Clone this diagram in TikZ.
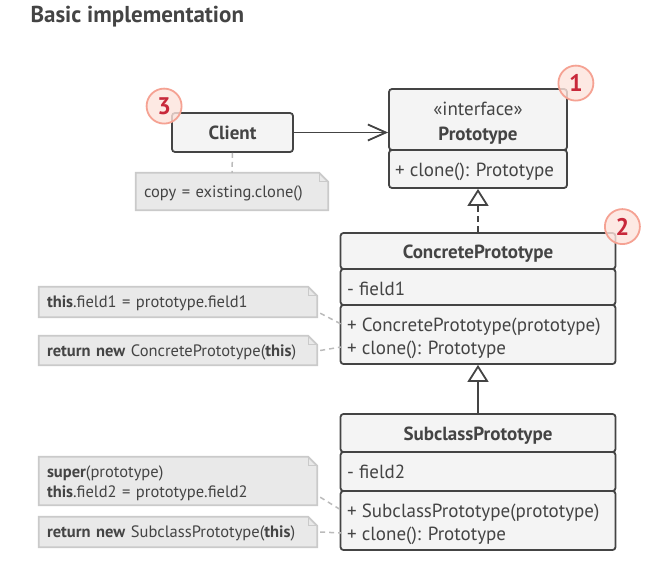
\documentclass[tikz,border=0pt]{standalone}
\usepackage{fontspec}
\setmainfont{PT Sans}
\usetikzlibrary{arrows.meta}
\definecolor{ink}{HTML}{444444}
\definecolor{boxfill}{HTML}{F4F4F4}
\definecolor{notefill}{HTML}{E9E9E9}
\definecolor{noteline}{HTML}{CACACA}
\definecolor{linkline}{HTML}{BBBBBB}
\definecolor{badgefill}{HTML}{FDE3DC}
\definecolor{badgeline}{HTML}{F5A293}
\definecolor{badgetext}{HTML}{C8283A}
\begin{document}
\begin{tikzpicture}[x=1pt,y=-1pt,
  every node/.style={text=ink},
  part/.style={draw=ink, fill=boxfill, line width=1.8pt, rounded corners=3pt, inner sep=0pt,
    text height=16pt, text depth=2pt, font=\fontsize{19}{22}\selectfont\bfseries},
  member/.style={anchor=west, inner xsep=6pt, inner ysep=0pt, text height=16.5pt, text depth=2pt,
    font=\fontsize{19}{22}\selectfont},
  note/.style={fill=notefill, inner xsep=8pt, inner ysep=0pt, align=left, text height=14.5pt, text depth=3.5pt,
    font=\fontsize{16.5}{20}\selectfont},
  notefold/.style={draw=noteline, line width=1.8pt},
  link/.style={draw=linkline, line width=1.5pt, dash pattern=on 5pt off 4pt},
  badge/.style={circle, minimum size=35pt, inner sep=0pt, draw=badgeline, line width=1.8pt,
    fill=badgefill, fill opacity=0.8, text opacity=1, text=badgetext, font=\fontsize{24}{24}\selectfont\bfseries}]

            \useasboundingbox (0,0) rectangle (649,570);

            \node[anchor=base west, font=\fontsize{23}{26}\selectfont\bfseries] (title) at (27,22) {Basic implementation};

            % client
            \node[part, minimum width=121pt, minimum height=39pt] (client) at (232.5,132.5) {Client};

            % prototype interface
            \node[part, minimum width=178pt, minimum height=61pt] (protohead) at (478,119.5) {};
            \node[part, minimum width=178pt, minimum height=38pt] (protometh) at (478,169) {};
            \node[member, anchor=center, font=\fontsize{19}{22}\selectfont] (protostereo) at (478,108) {«interface»};
            \node[member, anchor=center, font=\fontsize{19}{22}\selectfont\bfseries] (protoname) at (478,133) {Prototype};
            \node[member] (pm1) at (389,169) {+ clone(): Prototype};

            % concrete prototype
            \node[part, minimum width=275pt, minimum height=36pt] (cphead) at (478,251) {ConcretePrototype};
            \node[part, minimum width=275pt, minimum height=36pt] (cpfield) at (478,287) {};
            \node[part, minimum width=275pt, minimum height=59pt] (cpmeth) at (478,334.5) {};
            \node[member] (cpf1) at (341,288) {- field1};
            \node[member] (cpm1) at (341,324) {+ ConcretePrototype(prototype)};
            \node[member] (cpm2) at (341,347) {+ clone(): Prototype};

            % subclass prototype
            \node[part, minimum width=275pt, minimum height=38pt] (sphead) at (478,433) {SubclassPrototype};
            \node[part, minimum width=275pt, minimum height=39pt] (spfield) at (478,471.5) {};
            \node[part, minimum width=275pt, minimum height=59pt] (spmeth) at (478,520.5) {};
            \node[member] (spf1) at (341,471) {- field2};
            \node[member] (spm1) at (341,510) {+ SubclassPrototype(prototype)};
            \node[member] (spm2) at (341,533) {+ clone(): Prototype};

            % notes
            \node[note, minimum height=37pt, text width=176pt] (n0) at (232,191.5) {copy = existing.clone()};
            \node[note, minimum height=30pt, text width=262pt] (n1) at (178,302) {\textbf{this}.field1 = prototype.field1};
            \node[note, minimum height=29pt, text width=262pt] (n2) at (178,350.5) {\textbf{return new} ConcretePrototype(\textbf{this})};
            \node[note, minimum height=48pt, text width=262pt, text depth=22.5pt] (n3) at (178,481) {\textbf{super}(prototype)\\\textbf{this}.field2 = prototype.field2};
            \node[note, minimum height=30pt, text width=262pt] (n4) at (178,532) {\textbf{return new} SubclassPrototype(\textbf{this})};
            \foreach \n in {n0,n1,n2,n3,n4} {
              \fill[white] ([xshift=-9pt]\n.north east) -- (\n.north east) -- ([yshift=-9pt]\n.north east) -- cycle;
              \draw[notefold] (\n.south west) -- (\n.north west) -- ([xshift=-9pt]\n.north east) -- ([yshift=-9pt]\n.north east) -- (\n.south east) -- cycle;
              \draw[notefold, line width=1.2pt] ([xshift=-9pt]\n.north east) |- ([yshift=-9pt]\n.north east);
            }

            % connectors
            \draw[-{Straight Barb[length=18pt,width=16pt]}, draw=ink, line width=1.8pt] (client.east) -- (client.east -| protohead.west);
            \draw[-{Triangle[open,length=17pt,width=21pt]}, draw=ink, line width=1.8pt, dash pattern=on 6pt off 4pt] (cphead.north) -- (protometh.south);
            \draw[-{Triangle[open,length=17pt,width=21pt]}, draw=ink, line width=1.8pt] (sphead.north) -- (cpmeth.south);

            \draw[link] (client.south) -- (n0.north);
            \draw[link] ([xshift=3pt,yshift=4pt]n1.south east) -- (cpm1.west);
            \draw[link] ([xshift=3pt]n2.east) -- (cpm2.west);
            \draw[link] ([xshift=3pt,yshift=8pt]n3.south east) -- (spm1.west);
            \draw[link] ([xshift=3pt]n4.east) -- (spm2.west);

            % badges
            \node[badge] (b1) at ([shift={(8pt,5pt)}]protohead.north east) {1};
            \node[badge] (b2) at ([shift={(6pt,5.5pt)}]cphead.north east) {2};
            \node[badge] (b3) at ([shift={(-7pt,6pt)}]client.north west) {3};
            \end{tikzpicture}
\end{document}
